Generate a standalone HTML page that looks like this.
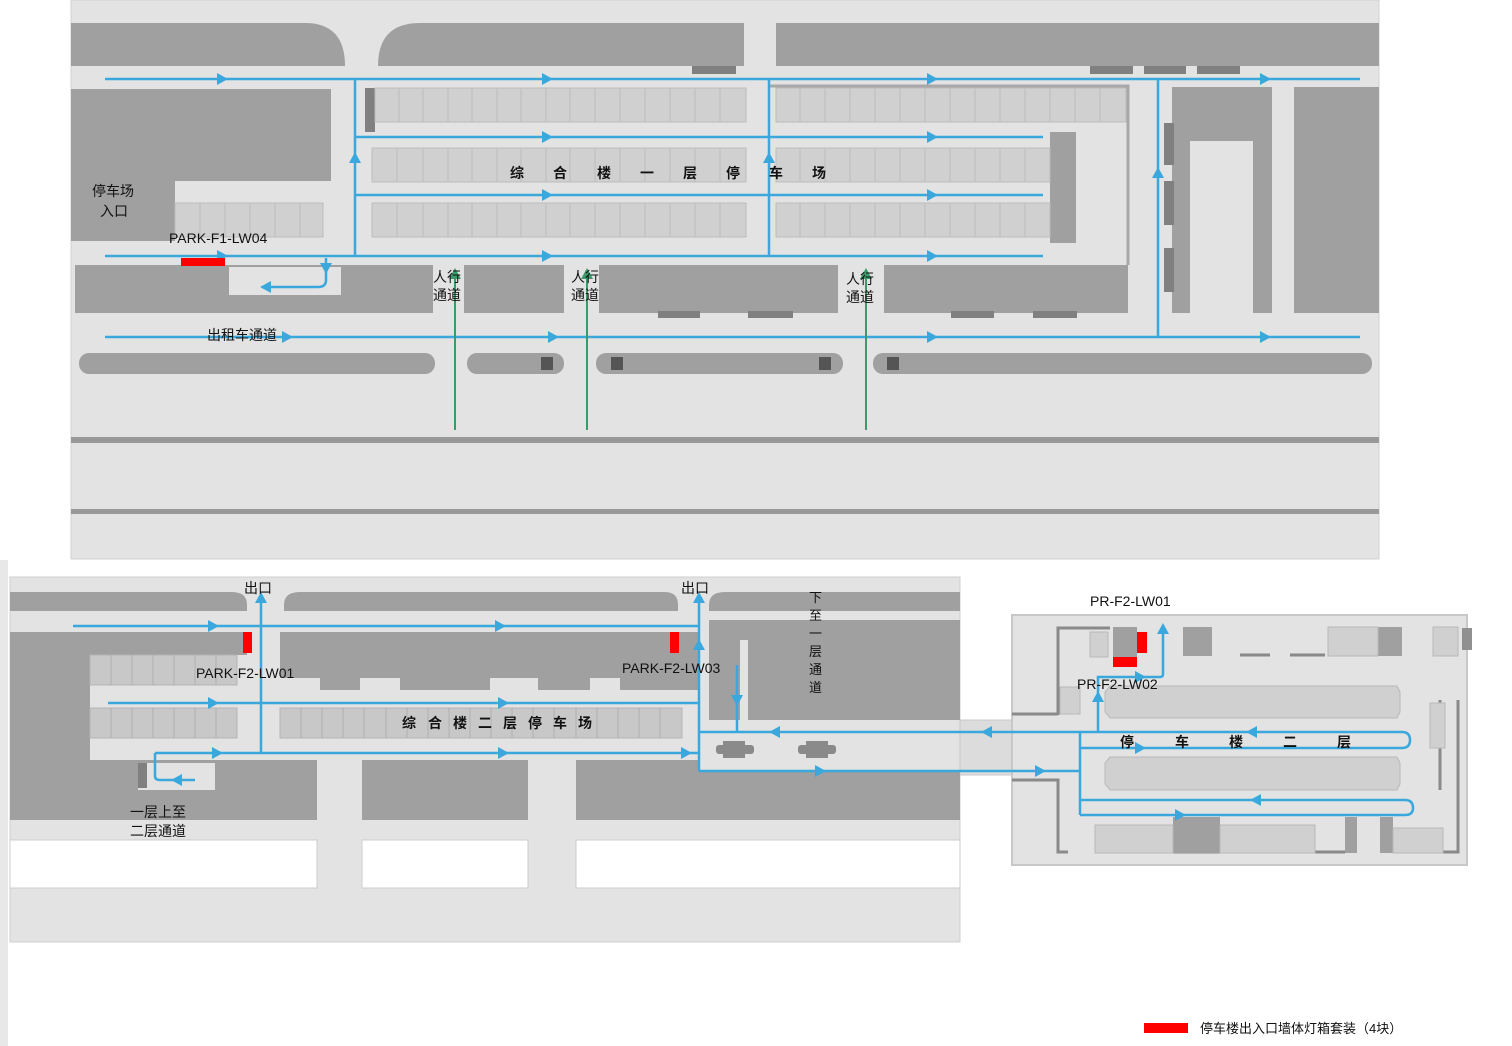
<!DOCTYPE html>
<html><head><meta charset="utf-8"><style>
html,body{margin:0;padding:0;background:#fff;}
svg{display:block;font-family:"Liberation Sans","Noto Sans CJK SC",sans-serif;}
</style></head><body>
<svg width="1512" height="1046" viewBox="0 0 1512 1046" xmlns="http://www.w3.org/2000/svg">
<defs>
<polygon id="ar" points="-5,-6 6,0 -5,6" fill="#3aa8dc"/>
<polygon id="ag" points="-5,-6 6,0 -5,6" fill="#3a9a6a"/>
</defs>
<!-- TOP PANEL -->
<rect x="71" y="0" width="1308" height="559" fill="#e3e3e3" stroke="#d0d0d0"/>
<g fill="#a0a0a0">
<path d="M71 23 H305 Q345 23 345 66 H71Z"/>
<path d="M420 23 H744 V66 H378 Q378 23 420 23Z"/>
<rect x="776" y="23" width="603" height="43"/>
<path d="M71 89 H331 V181 H175 V241 H71Z"/>
<rect x="1050" y="132" width="26" height="111"/>
<path d="M1172 87 H1272 V313 H1253 V141 H1190 V313 H1172Z"/>
<rect x="1294" y="87" width="85" height="226"/>
<path d="M75 265 H433 V313 H75Z"/>
<rect x="464" y="265" width="100" height="48"/>
<rect x="599" y="265" width="239" height="48"/>
<rect x="884" y="265" width="244" height="48"/>
<rect x="79" y="353" width="356" height="21" rx="10"/>
<rect x="467" y="353" width="97" height="21" rx="10"/>
<rect x="596" y="353" width="247" height="21" rx="10"/>
<rect x="873" y="353" width="499" height="21" rx="10"/>
</g>
<rect x="229" y="267" width="112" height="28" fill="#e3e3e3"/>
<g fill="#808080">
<rect x="692" y="66" width="44" height="8"/><rect x="1090" y="66" width="43" height="8"/><rect x="1144" y="66" width="42" height="8"/><rect x="1197" y="66" width="43" height="8"/>
<rect x="365" y="88" width="10" height="44"/>
<rect x="1164" y="123" width="10" height="42"/><rect x="1164" y="181" width="10" height="44"/><rect x="1164" y="248" width="10" height="44"/>
<rect x="658" y="311" width="42" height="7"/><rect x="748" y="311" width="45" height="7"/><rect x="951" y="311" width="43" height="7"/><rect x="1033" y="311" width="44" height="7"/>
</g>
<g fill="#555"><rect x="541" y="357" width="12" height="13"/><rect x="611" y="357" width="12" height="13"/><rect x="819" y="357" width="12" height="13"/><rect x="887" y="357" width="12" height="13"/></g>
<path d="M770 86 H1128 V265" fill="none" stroke="#a8a8a8" stroke-width="3"/>
<!-- parking rows -->
<g fill="#d0d0d0" stroke="#bdbdbd">
<rect x="375" y="88" width="371" height="34"/><rect x="776" y="88" width="350" height="34"/>
<rect x="372" y="148" width="374" height="34"/><rect x="776" y="148" width="274" height="34"/>
<rect x="372" y="203" width="374" height="34"/><rect x="776" y="203" width="274" height="34"/>
<rect x="175" y="203" width="148" height="34"/>
</g>
<g stroke="#bdbdbd">
<path d="M399 88V122M423 88V122M448 88V122M472 88V122M497 88V122M521 88V122M546 88V122M570 88V122M595 88V122M620 88V122M645 88V122M670 88V122M695 88V122M720 88V122"/>
<path d="M800 88V122M825 88V122M850 88V122M875 88V122M900 88V122M925 88V122M950 88V122M975 88V122M1000 88V122M1025 88V122M1050 88V122M1075 88V122M1100 88V122"/>
<path d="M397 148V182M423 148V182M448 148V182M472 148V182M497 148V182M521 148V182M546 148V182M570 148V182M595 148V182M620 148V182M645 148V182M670 148V182M695 148V182M720 148V182M800 148V182M825 148V182M850 148V182M875 148V182M900 148V182M925 148V182M950 148V182M975 148V182M1000 148V182M1025 148V182"/>
<path d="M397 203V237M423 203V237M448 203V237M472 203V237M497 203V237M521 203V237M546 203V237M570 203V237M595 203V237M620 203V237M645 203V237M670 203V237M695 203V237M720 203V237M800 203V237M825 203V237M850 203V237M875 203V237M900 203V237M925 203V237M950 203V237M975 203V237M1000 203V237M1025 203V237"/>
<path d="M200 203V237M225 203V237M250 203V237M275 203V237M300 203V237"/>
</g>
<rect x="71" y="437" width="1308" height="6" fill="#999"/>
<rect x="71" y="509" width="1308" height="5" fill="#999"/>
<!-- top blue -->
<g stroke="#3aa8dc" stroke-width="2.5" fill="none">
<path d="M105 79H1360M355 79V256M769 79V256M1158 79V337M355 137H1043M355 195H1043M105 256H1043M105 337H1360"/>
<path d="M326 258V280Q326 287 318 287H262"/>
</g>
<g>
<use href="#ar" x="222" y="79"/><use href="#ar" x="547" y="79"/><use href="#ar" x="932" y="79"/><use href="#ar" x="1265" y="79"/>
<use href="#ar" x="547" y="137"/><use href="#ar" x="932" y="137"/><use href="#ar" x="547" y="195"/><use href="#ar" x="932" y="195"/>
<use href="#ar" x="222" y="256"/><use href="#ar" x="547" y="256"/><use href="#ar" x="932" y="256"/>
<use href="#ar" x="553" y="337"/><use href="#ar" x="932" y="337"/><use href="#ar" x="1265" y="337"/><use href="#ar" x="287" y="337"/>
<use href="#ar" transform="translate(355 158) rotate(-90)"/><use href="#ar" transform="translate(769 158) rotate(-90)"/><use href="#ar" transform="translate(1158 173) rotate(-90)"/>
<use href="#ar" transform="translate(326 268) rotate(90)"/><use href="#ar" transform="translate(266 287) rotate(180)"/>
</g>
<g stroke="#3a9a6a" stroke-width="2"><path d="M455 430V272M587 430V272M866 430V272"/></g>
<use href="#ag" transform="translate(455 274) rotate(-90)"/><use href="#ag" transform="translate(587 274) rotate(-90)"/><use href="#ag" transform="translate(866 274) rotate(-90)"/>
<rect x="181" y="258" width="44" height="8" fill="#f00"/>
<g font-size="14" fill="#111">
<text x="169" y="243">PARK-F1-LW04</text>
<text x="92" y="196">停车场</text><text x="100" y="216">入口</text>
<text x="207" y="340">出租车通道</text>
<text x="433" y="282">人行</text><text x="433" y="300">通道</text>
<text x="571" y="282">人行</text><text x="571" y="300">通道</text>
<text x="846" y="284">人行</text><text x="846" y="302">通道</text>
<text x="510" y="178" font-weight="bold">综</text><text x="553" y="178" font-weight="bold">合</text><text x="597" y="178" font-weight="bold">楼</text><text x="640" y="178" font-weight="bold">一</text><text x="683" y="178" font-weight="bold">层</text><text x="726" y="178" font-weight="bold">停</text><text x="769" y="178" font-weight="bold">车</text><text x="812" y="178" font-weight="bold">场</text>
</g>
<!-- BOTTOM PANEL -->
<rect x="0" y="560" width="8" height="486" fill="#e8e8e8"/>
<rect x="10" y="577" width="950" height="365" fill="#e3e3e3" stroke="#cfcfcf"/>
<rect x="960" y="720" width="52" height="55" fill="#dcdcdc" stroke="#c8c8c8"/>
<rect x="1012" y="615" width="455" height="250" fill="#e3e3e3" stroke="#c8c8c8" stroke-width="2"/>
<g fill="#a0a0a0">
<path d="M10 592H232Q247 592 247 605V611H10Z"/>
<path d="M300 592H665Q678 592 678 605V611H284V605Q284 592 300 592Z"/>
<path d="M725 592H960V611H709V605Q709 592 725 592Z"/>
<path d="M10 632H247V655H90V820H10Z"/>
<path d="M280 632H700V690H620V678H590V690H538V678H490V690H400V678H360V690H320V678H280Z"/>
<path d="M10 760H317V820H10Z"/>
<rect x="362" y="760" width="166" height="60"/>
<path d="M576 760H700V772H960V820H576Z"/>
<path d="M709 620H960V720H748V640H740V720H709Z"/>
</g>
<rect x="138" y="763" width="77" height="27" fill="#e3e3e3"/>
<rect x="138" y="763" width="9" height="25" fill="#808080"/>
<g fill="#fff" stroke="#ccc"><rect x="10" y="840" width="307" height="48"/><rect x="362" y="840" width="166" height="48"/><rect x="576" y="840" width="384" height="48"/></g>
<g fill="#c8c8c8" stroke="#b5b5b5">
<rect x="90" y="655" width="147" height="30"/><rect x="90" y="708" width="147" height="30"/><rect x="280" y="708" width="402" height="30"/>
</g>
<g stroke="#b0b0b0"><path d="M111 655V685M132 655V685M153 655V685M174 655V685M195 655V685M216 655V685M111 708V738M132 708V738M153 708V738M174 708V738M195 708V738M216 708V738M301 708V738M322 708V738M343 708V738M364 708V738M386 708V738M407 708V738M428 708V738M449 708V738M470 708V738M491 708V738M512 708V738M533 708V738M554 708V738M576 708V738M597 708V738M618 708V738M639 708V738M660 708V738"/></g>
<!-- vehicles -->
<g fill="#8a8a8a"><rect x="716" y="745" width="38" height="9" rx="3"/><rect x="723" y="741" width="22" height="17"/><rect x="798" y="745" width="38" height="9" rx="3"/><rect x="806" y="741" width="22" height="17"/></g>
<!-- right building -->
<g fill="none" stroke="#8a8a8a" stroke-width="3">
<path d="M1058 715V628H1110"/><path d="M1240 655H1270M1290 655H1325"/><path d="M1012 714H1058"/><path d="M1012 780H1058V852H1068"/><path d="M1440 700V790M1458 700V852H1410"/><path d="M1095 852H1345"/>
</g>
<g fill="#a0a0a0"><rect x="1113" y="627" width="24" height="30"/><rect x="1183" y="627" width="29" height="29"/><rect x="1378" y="627" width="24" height="29"/><rect x="1173" y="817" width="47" height="36"/><rect x="1345" y="817" width="12" height="36"/><rect x="1380" y="817" width="13" height="36"/></g>
<rect x="1462" y="628" width="10" height="22" fill="#909090"/>
<g fill="#d0d0d0" stroke="#b8b8b8"><rect x="1090" y="632" width="18" height="25"/><rect x="1328" y="627" width="50" height="29"/><rect x="1433" y="627" width="25" height="29"/><rect x="1060" y="687" width="20" height="27"/><rect x="1095" y="825" width="78" height="28"/><rect x="1220" y="825" width="95" height="28"/><rect x="1393" y="828" width="50" height="25"/><rect x="1430" y="703" width="15" height="45"/>
<path d="M1110 686H1397L1400 692V712L1397 718H1110L1105 712V692Z"/><path d="M1110 757H1397L1400 763V784L1397 790H1110L1105 784V763Z"/></g>
<!-- bottom blue -->
<g stroke="#3aa8dc" stroke-width="2.5" fill="none">
<path d="M73 626H699M108 703H699M155 753H699M261 753V596M699 771V596"/>
<path d="M155 753V776Q155 780 160 780H195"/>
<path d="M699 732H1080M699 771H1080M737 665V732"/>
<path d="M1080 732V815M1080 732H1402Q1410 732 1410 740Q1410 748 1402 748H1080M1080 800H1405Q1413 800 1413 808Q1413 815 1405 815H1080"/>
<path d="M1098 732V677H1160Q1163 677 1163 674V626"/>
</g>
<g>
<use href="#ar" x="213" y="626"/><use href="#ar" x="500" y="626"/><use href="#ar" x="213" y="703"/><use href="#ar" x="503" y="703"/>
<use href="#ar" x="217" y="753"/><use href="#ar" x="503" y="753"/><use href="#ar" x="686" y="753"/>
<use href="#ar" transform="translate(177 780) rotate(180)"/>
<use href="#ar" transform="translate(261 598) rotate(-90)"/><use href="#ar" transform="translate(699 598) rotate(-90)"/><use href="#ar" transform="translate(699 645) rotate(-90)"/>
<use href="#ar" transform="translate(737 700) rotate(90)"/>
<use href="#ar" transform="translate(775 732) rotate(180)"/><use href="#ar" transform="translate(987 732) rotate(180)"/><use href="#ar" transform="translate(1252 732) rotate(180)"/><use href="#ar" transform="translate(1256 800) rotate(180)"/>
<use href="#ar" x="820" y="771"/><use href="#ar" x="1040" y="771"/><use href="#ar" x="1140" y="748"/><use href="#ar" x="1180" y="815"/>
<use href="#ar" transform="translate(1098 697) rotate(-90)"/><use href="#ar" transform="translate(1163 629) rotate(-90)"/><use href="#ar" x="1140" y="677"/>
</g>
<g fill="#f00"><rect x="243" y="632" width="9" height="21"/><rect x="670" y="632" width="9" height="21"/><rect x="1137" y="632" width="10" height="21"/><rect x="1113" y="657" width="24" height="10"/><rect x="1144" y="1023" width="44" height="10"/></g>
<g font-size="14" fill="#111">
<text x="244" y="593">出口</text><text x="681" y="593">出口</text>
<text x="196" y="678">PARK-F2-LW01</text><text x="622" y="673">PARK-F2-LW03</text>
<text x="1090" y="606">PR-F2-LW01</text><text x="1077" y="689">PR-F2-LW02</text>
<text x="130" y="817">一层上至</text><text x="130" y="836">二层通道</text>
<text font-weight="bold"><tspan x="402" y="728">综</tspan><tspan x="428" y="728">合</tspan><tspan x="453" y="728">楼</tspan><tspan x="478" y="728">二</tspan><tspan x="503" y="728">层</tspan><tspan x="528" y="728">停</tspan><tspan x="553" y="728">车</tspan><tspan x="578" y="728">场</tspan></text>
<text font-weight="bold"><tspan x="1120" y="747">停</tspan><tspan x="1175" y="747">车</tspan><tspan x="1229" y="747">楼</tspan><tspan x="1283" y="747">二</tspan><tspan x="1337" y="747">层</tspan></text>
<text font-size="13"><tspan x="809" y="602">下</tspan><tspan x="809" y="620">至</tspan><tspan x="809" y="638">一</tspan><tspan x="809" y="656">层</tspan><tspan x="809" y="674">通</tspan><tspan x="809" y="692">道</tspan></text>
<text x="1200" y="1033" font-size="13">停车楼出入口墙体灯箱套装（4块）</text>
</g>
</svg>
</body></html>
